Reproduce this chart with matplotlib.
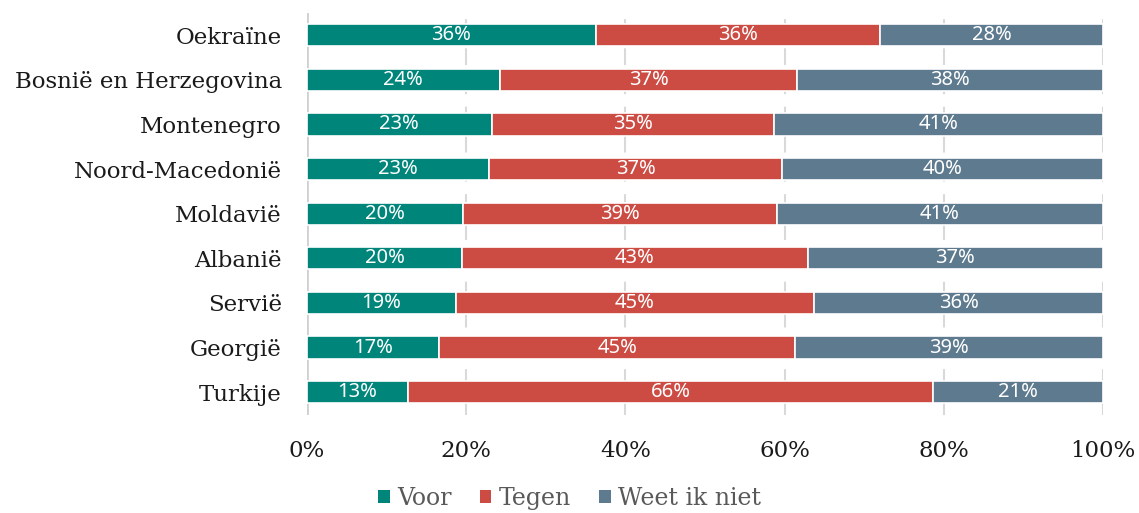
import matplotlib.pyplot as plt
from matplotlib.patches import Patch

countries = ["Oekraïne", "Bosnië en Herzegovina", "Montenegro", "Noord-Macedonië",
             "Moldavië", "Albanië", "Servië", "Georgië", "Turkije"]
voor = [36.3, 24.2, 23.2, 22.9, 19.6, 19.5, 18.7, 16.6, 12.7]
tegen = [35.7, 37.4, 35.4, 36.8, 39.4, 43.4, 45.0, 44.7, 65.9]
weet_niet = [28.0, 38.4, 41.4, 40.3, 41.0, 37.1, 36.3, 38.7, 21.4]

series = [("Voor", voor, "#00857a"),
          ("Tegen", tegen, "#cc4c43"),
          ("Weet ik niet", weet_niet, "#5e7a8e")]

SERIF = ["DejaVu Serif"]
LABEL_FONT = ["Noto Sans", "DejaVu Sans"]

fig = plt.figure(figsize=(11.39, 5.13), dpi=100)
ax = fig.add_axes([0.2695, 0.192, 0.699, 0.783])

ypos = list(range(len(countries)))
left = [0.0] * len(countries)
for name, vals, color in series:
    bars = ax.barh(ypos, vals, left=left, height=0.5, color=color,
                   edgecolor="white", linewidth=1.2, label=name, zorder=3)
    for bar, v in zip(bars, vals):
        ax.text(bar.get_x() + bar.get_width() / 2, bar.get_y() + bar.get_height() / 2,
                f"{round(v):.0f}%", ha="center", va="center", color="white",
                fontsize=14.5, family=LABEL_FONT, zorder=4)
    left = [l + v for l, v in zip(left, vals)]

ax.set_ylim(len(countries) - 0.5, -0.5)
ax.set_xlim(0, 100)
ax.set_yticks(ypos)
ax.set_yticklabels(countries, family=SERIF, fontsize=16.5, color="#1a1a1a")
ax.set_xticks([0, 20, 40, 60, 80, 100])
ax.set_xticklabels([f"{t}%" for t in range(0, 101, 20)], family=SERIF,
                   fontsize=16.5, color="#1a1a1a")
ax.tick_params(axis="both", length=0)
ax.tick_params(axis="x", pad=18)
ax.tick_params(axis="y", pad=18)

for s in ax.spines.values():
    s.set_visible(False)
ax.axvline(0, color="#d0d0d0", linewidth=2, zorder=2)
for t in [20, 40, 60, 80, 100]:
    ax.axvline(t, color="#d9d9d9", linewidth=1.5, linestyle=(0, (8, 6)), zorder=1)

handles = [Patch(facecolor=c, label=n) for n, _, c in series]
leg = fig.legend(handles=handles, loc="lower center", bbox_to_anchor=(0.5, -0.035),
                 ncol=3, frameon=False, handlelength=0.5, handleheight=0.5,
                 handletextpad=0.3, columnspacing=1.2,
                 prop={"family": SERIF, "size": 17})
for txt in leg.get_texts():
    txt.set_color("#595959")

fig.savefig("out.png", dpi=100)
